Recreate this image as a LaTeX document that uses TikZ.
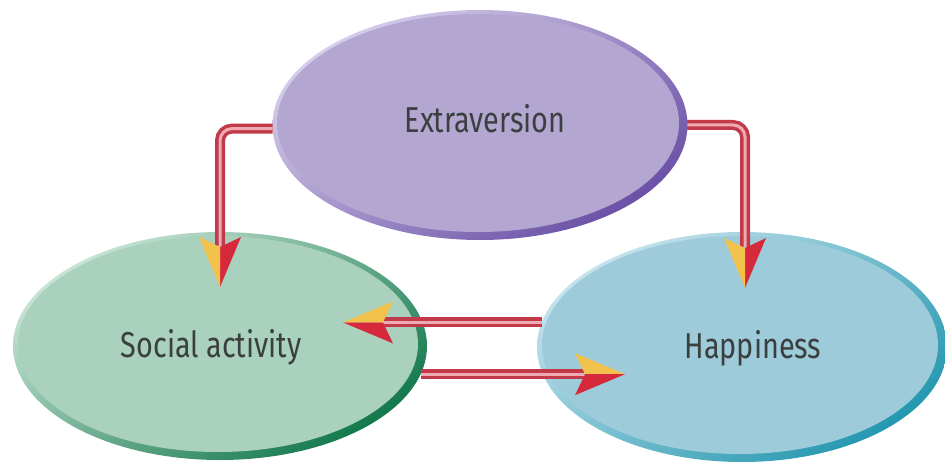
\documentclass[tikz,border=0pt]{standalone}
\usepackage{fontspec}
\setmainfont{Fira Sans}[FakeStretch=0.8]
\usetikzlibrary{shapes.geometric,calc}
\definecolor{extfill}{HTML}{B3A7D2}
\definecolor{extlight}{HTML}{D6CEEA}
\definecolor{extdark}{HTML}{6A50A6}
\definecolor{socfill}{HTML}{A9D1BD}
\definecolor{soclight}{HTML}{C8E4D6}
\definecolor{socdark}{HTML}{12784C}
\definecolor{hapfill}{HTML}{9DCBDA}
\definecolor{haplight}{HTML}{C6E3EC}
\definecolor{hapdark}{HTML}{2397B0}
\definecolor{txt}{HTML}{3A3F40}
\definecolor{pipered}{HTML}{C23A4A}
\definecolor{pipepink}{HTML}{EFAAB2}
\definecolor{headred}{HTML}{D62A3C}
\definecolor{headyellow}{HTML}{F3C24C}
\tikzset{
  blob/.style n args={4}{ellipse, minimum width=#1, minimum height=#2,
    inner sep=0pt, outer sep=0pt,
    path picture={
      \shade[top color=#3, bottom color=#4, shading angle=35]
        (path picture bounding box.south west) rectangle (path picture bounding box.north east);
      \fill[#4!0!#3!0!white, fill opacity=0] (0,0) circle (0);
    }},
  innerfill/.style={},
  lbl/.style={anchor=base, text=txt, font=\fontsize{36}{40}\selectfont},
  pipe/.style={line width=3.5pt, draw=pipered, double=pipepink, double distance=3pt, rounded corners=12pt}
}
\newcommand\ahead[4]{%
  \begin{scope}[shift={(#1)}, rotate=#2]
    \fill[#3] (0,0) -- (-50,21) -- (-40,0) -- cycle;
    \fill[#4] (0,0) -- (-50,-21) -- (-40,0) -- cycle;
  \end{scope}}
\begin{document}
\begin{tikzpicture}[x=1pt,y=1pt]
\useasboundingbox (0,0) rectangle (945,464);
% ellipses
\node[blob={415}{230}{extlight}{extdark}] (ext) at (480,339) {};
\fill[extfill] ($(ext.center)+(-2,2)$) ellipse [x radius=201, y radius=109];
\node[blob={414}{228}{soclight}{socdark}] (soc) at (220,118) {};
\fill[socfill] ($(soc.center)+(-2,2)$) ellipse [x radius=200, y radius=108];
\node[blob={410}{230}{haplight}{hapdark}] (hap) at (742,117) {};
\fill[hapfill] ($(hap.center)+(-2,2)$) ellipse [x radius=198, y radius=109];
% labels
\node[lbl] (extlbl) at (485,331) {Extraversion};
\node[lbl] (soclbl) at (211,107) {Social activity};
\node[lbl] (haplbl) at (753,106) {Happiness};
% tips
\coordinate (t1) at ($(soc.north)+(0,-55)$);
\coordinate (t2) at ($(hap.north)+(3,-56)$);
\coordinate (t3) at ($(hap.173.5 -| soc.center)+(123,0)$);
\coordinate (t4) at ($(soc.-8.85 -| hap.center)+(-117,0)$);
% shafts
\draw[pipe] (ext.181) -| ($(t1)+(0,41)$);
\draw[pipe] (ext.-0.7) -| ($(t2)+(0,41)$);
\draw[pipe] (hap.173.5) -- ($(t3)+(41,0)$);
\draw[pipe] (soc.-8.85) -- ($(t4)+(-41,0)$);
% heads
\ahead{t1}{-90}{headred}{headyellow}
\ahead{t2}{-90}{headred}{headyellow}
\ahead{t3}{180}{headred}{headyellow}
\ahead{t4}{0}{headyellow}{headred}
\end{tikzpicture}
\end{document}
